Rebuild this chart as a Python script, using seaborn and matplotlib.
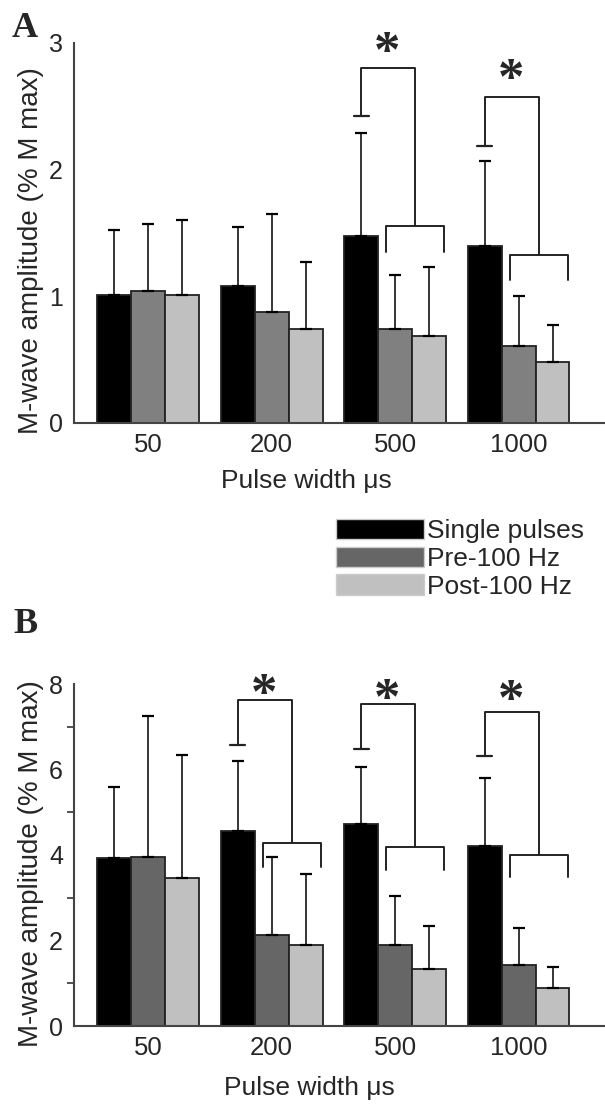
import numpy as np
import pandas as pd
import matplotlib
matplotlib.use("Agg")
import matplotlib.pyplot as plt
from matplotlib.patches import Patch
import seaborn as sns

# =========================
# DATA
# =========================
pulse_widths = ["50", "200", "500", "1000"]
conditions = ["Single pulses", "Pre-100 Hz", "Post-100 Hz"]

# panel A
a_single = [1.01, 1.08, 1.475, 1.40]
a_pre = [1.04, 0.88, 0.74, 0.61]
a_post = [1.01, 0.74, 0.69, 0.48]
a_single_sd = [0.51, 0.47, 0.815, 0.67]
a_pre_sd = [0.53, 0.77, 0.43, 0.39]
a_post_sd = [0.59, 0.53, 0.54, 0.29]

# panel B
b_single = [3.93, 4.57, 4.73, 4.22]
b_pre = [3.96, 2.12, 1.90, 1.43]
b_post = [3.46, 1.90, 1.34, 0.90]
b_single_sd = [1.65, 1.64, 1.32, 1.57]
b_pre_sd = [3.29, 1.83, 1.15, 0.86]
b_post_sd = [2.89, 1.66, 1.00, 0.49]

# significance brackets
a_sig_groups = [2, 3]
a_sig_top = [2.80, 2.575]
a_sig_left_end = [2.42, 2.19]
a_sig_low = [1.555, 1.33]
a_sig_low_end = [1.35, 1.13]
a_sig_star = [3.015, 2.80]

b_sig_groups = [1, 2, 3]
b_sig_top = [7.62, 7.53, 7.35]
b_sig_left_end = [6.57, 6.49, 6.31]
b_sig_low = [4.28, 4.19, 4.01]
b_sig_low_end = [3.73, 3.66, 3.48]
b_sig_star = [8.02, 7.89, 7.86]

FONT = ["Liberation Sans", "DejaVu Sans"]
SERIF = ["Liberation Serif", "DejaVu Serif"]
BAR_W = 0.275


def make_frame(single, pre, post):
    rows = []
    for vals, cond in zip([single, pre, post], conditions):
        for pw, v in zip(pulse_widths, vals):
            rows.append({"pulse": pw, "condition": cond, "value": v})
    return pd.DataFrame(rows)


def draw_panel(ax, single, pre, post, sds, palette, groups, top, left_end,
               low, low_end, stars, ymax):
    df = make_frame(single, pre, post)
    sns.barplot(
        data=df,
        x="pulse",
        y="value",
        hue="condition",
        order=pulse_widths,
        hue_order=conditions,
        palette=palette,
        width=BAR_W * 3,
        edgecolor="#222222",
        linewidth=1.3,
        errorbar=None,
        legend=False,
        ax=ax
    )

    # upward-only error bars
    for j, (vals, sd) in enumerate(zip([single, pre, post], sds)):
        xs = np.arange(len(pulse_widths)) + (j - 1) * BAR_W
        ax.errorbar(
            xs,
            vals,
            yerr=[np.zeros(len(sd)), sd],
            fmt="none",
            ecolor="black",
            elinewidth=1.1,
            capsize=4.3,
            capthick=1.6,
            zorder=1
        )

    # brackets
    for g, t, le, lo, loe, st in zip(groups, top, left_end, low, low_end,
                                     stars):
        xl = g - BAR_W
        xr = g + 0.165
        ax.plot([xl, xl, xr, xr], [le, t, t, lo], color="#222222", lw=1.4)
        ax.plot([xl - 0.06, xl + 0.06], [le, le], color="#222222", lw=1.6)
        ax.plot([g - 0.07, g - 0.07, g + 0.40, g + 0.40],
                [loe, lo, lo, loe], color="#222222", lw=1.4)
        ax.annotate("*", xy=(xl + 0.21, st), xytext=(0, -9),
                    textcoords="offset points", ha="center", va="center",
                    fontsize=38, fontweight="bold", family=SERIF,
                    annotation_clip=False)

    ax.set_xlim(-0.6, 3.70)
    ax.set_ylim(0, ymax)
    ax.set_xlabel("Pulse width μs", fontsize=19, family=FONT, va="center")
    ax.set_ylabel("M-wave amplitude (% M max)", fontsize=20, family=FONT,
                  va="center")
    ax.tick_params(axis="x", length=0, pad=7, labelsize=18.5)
    ax.tick_params(axis="y", length=5, width=1.3, color="#444444",
                   pad=3, labelsize=18)
    for lab in ax.get_xticklabels() + ax.get_yticklabels():
        lab.set_family(FONT)
    for side in ["top", "right"]:
        ax.spines[side].set_visible(False)
    for side in ["left", "bottom"]:
        ax.spines[side].set_color("#444444")
        ax.spines[side].set_linewidth(1.5)


sns.set_style("white")
plt.rcParams["font.family"] = FONT

fig = plt.figure(figsize=(6.05, 11.04), dpi=100)

# =========================
# PANEL A
# =========================
ax_a = fig.add_axes([74 / 605, 1 - 423 / 1104, 1 - 74 / 605, 380 / 1104])
draw_panel(
    ax_a, a_single, a_pre, a_post,
    [a_single_sd, a_pre_sd, a_post_sd],
    ["#000000", "#808080", "#c0c0c0"],
    a_sig_groups, a_sig_top, a_sig_left_end, a_sig_low, a_sig_low_end,
    a_sig_star, 3
)
ax_a.set_yticks([0, 1, 2, 3])
ax_a.yaxis.set_label_coords(-0.081, 0.455)
ax_a.xaxis.set_label_coords(0.437, -0.153)

# =========================
# PANEL B
# =========================
ax_b = fig.add_axes([74 / 605, 1 - 1026 / 1104, 1 - 74 / 605, 342 / 1104])
draw_panel(
    ax_b, b_single, b_pre, b_post,
    [b_single_sd, b_pre_sd, b_post_sd],
    ["#000000", "#666666", "#c0c0c0"],
    b_sig_groups, b_sig_top, b_sig_left_end, b_sig_low, b_sig_low_end,
    b_sig_star, 8
)
ax_b.set_yticks([0, 2, 4, 6, 8])
ax_b.set_yticks([1, 3, 5, 7], minor=True)
ax_b.tick_params(axis="y", which="minor", length=5, width=1.3,
                 color="#444444", left=True)
ax_b.yaxis.set_label_coords(-0.081, 0.474)
ax_b.xaxis.set_label_coords(0.444, -0.182)

# =========================
# LEGEND
# =========================
handles = [
    Patch(facecolor="#000000", edgecolor="#cccccc", label=conditions[0]),
    Patch(facecolor="#666666", edgecolor="#cccccc", label=conditions[1]),
    Patch(facecolor="#c0c0c0", edgecolor="#cccccc", label=conditions[2]),
]
fig.legend(
    handles=handles,
    loc="upper left",
    bbox_to_anchor=(336 / 605, 1 - 519 / 1104),
    frameon=False,
    fontsize=19,
    handlelength=3.33,
    handleheight=0.8,
    handletextpad=0.1,
    labelspacing=0.13,
    borderpad=0,
    borderaxespad=0
)

# panel letters
fig.text(12 / 605, 1 - 37 / 1104, "A", fontsize=26, fontweight="bold",
         family=SERIF)
fig.text(13 / 605, 1 - 633 / 1104, "B", fontsize=26, fontweight="bold",
         family=SERIF)

fig.savefig("out.png", dpi=100)
plt.close(fig)
